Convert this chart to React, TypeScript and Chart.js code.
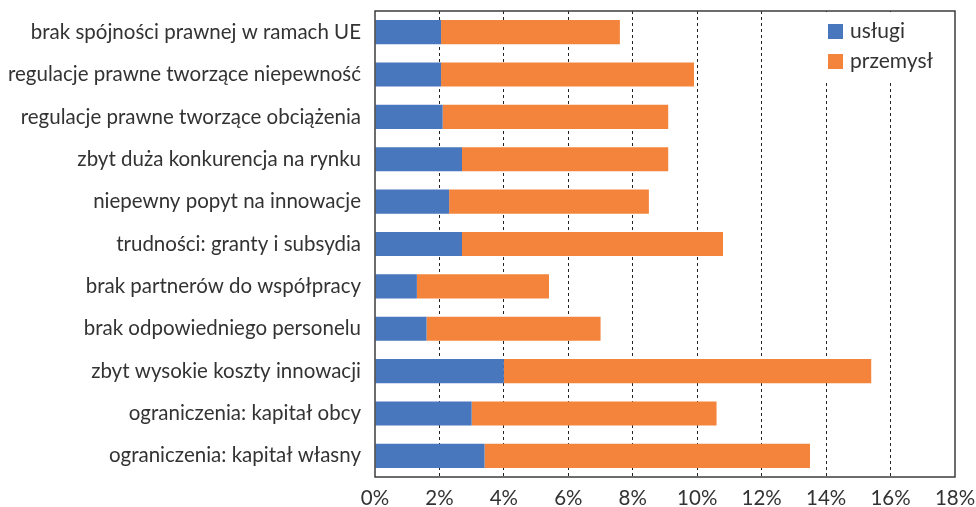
import React, { useEffect, useRef } from "react";
import { Chart, registerables } from "chart.js";

Chart.register(...registerables);

const categories = [
  "brak spójności prawnej w ramach UE",
  "regulacje prawne tworzące niepewność",
  "regulacje prawne tworzące obciążenia",
  "zbyt duża konkurencja na rynku",
  "niepewny popyt na innowacje",
  "trudności: granty i subsydia",
  "brak partnerów do współpracy",
  "brak odpowiedniego personelu",
  "zbyt wysokie koszty innowacji",
  "ograniczenia: kapitał obcy",
  "ograniczenia: kapitał własny",
];

const uslugi = [2.05, 2.05, 2.1, 2.7, 2.3, 2.7, 1.3, 1.6, 4.0, 3.0, 3.4];
const przemysl = [5.55, 7.85, 7.0, 6.4, 6.2, 8.1, 4.1, 5.4, 11.4, 7.6, 10.1];

const seriesNames = ["usługi", "przemysł"];
const seriesColors = ["#4877bd", "#f4843c"];

const xMin = 0;
const xMax = 18;
const xStep = 2;

const FONT = "Lato, 'Open Sans', sans-serif";
const TEXT = "#333333";

const boxPlugin = {
  id: "boxAndLegend",
  beforeDatasetsDraw(chart: any) {
    const { ctx, chartArea } = chart;
    ctx.save();
    ctx.fillStyle = "#ffffff";
    ctx.fillRect(815, chartArea.top + 1, chartArea.right - 816, 68);
    ctx.restore();
  },
  afterDraw(chart: any) {
    const { ctx, chartArea } = chart;
    ctx.save();
    ctx.strokeStyle = "#3c3c3c";
    ctx.lineWidth = 1.5;
    ctx.strokeRect(chartArea.left, chartArea.top, chartArea.right - chartArea.left, chartArea.bottom - chartArea.top);
    // legend
    ctx.font = `21px ${FONT}`;
    ctx.textBaseline = "middle";
    ctx.textAlign = "left";
    seriesNames.forEach((name, i) => {
      const y = 24 + i * 30;
      ctx.fillStyle = seriesColors[i];
      ctx.fillRect(828, y, 15, 15);
      ctx.fillStyle = TEXT;
      ctx.fillText(name, 850, y + 7);
    });
    ctx.restore();
  },
};

export default function App() {
  const ref = useRef<HTMLCanvasElement | null>(null);
  useEffect(() => {
    document.body.style.margin = "0";
    const chart = new Chart(ref.current as HTMLCanvasElement, {
      type: "bar",
      data: {
        labels: categories,
        datasets: [
          { label: seriesNames[0], data: uslugi, backgroundColor: seriesColors[0], borderWidth: 0 },
          { label: seriesNames[1], data: przemysl, backgroundColor: seriesColors[1], borderWidth: 0 },
        ],
      },
      options: {
        indexAxis: "y",
        responsive: false,
        animation: false,
        maintainAspectRatio: false,
        layout: { padding: { top: 11, right: 21, left: 0, bottom: 0 } },
        plugins: { legend: { display: false }, tooltip: { enabled: false } },
        datasets: { bar: { categoryPercentage: 1, barPercentage: 0.57 } },
        scales: {
          x: {
            stacked: true,
            min: xMin,
            max: xMax,
            ticks: {
              stepSize: xStep,
              padding: 9,
              color: TEXT,
              font: { family: FONT, size: 20.5 },
              callback: (v: any) => `${v}%`,
            },
            grid: {
              drawTicks: false,
              color: (c: any) => (c.tick && (c.tick.value === xMin || c.tick.value === xMax) ? "rgba(0,0,0,0)" : "#222222"),
              lineWidth: 1,
            },
            border: { display: false, dash: [3, 3] },
            afterFit: (s: any) => {
              s.height = 30;
              s.paddingLeft = 0;
              s.paddingRight = 0;
            },
          },
          y: {
            stacked: true,
            ticks: { padding: 14, color: TEXT, font: { family: FONT, size: 20.5 } },
            grid: { display: false, drawTicks: false },
            border: { display: false },
            afterFit: (s: any) => {
              s.width = 375;
              s.paddingTop = 0;
              s.paddingBottom = 0;
            },
          },
        },
      },
      plugins: [boxPlugin],
    });
    return () => chart.destroy();
  }, []);
  return (
    <div style={{ width: 976, height: 507 }}>
      <canvas ref={ref} width={976} height={507} style={{ display: "block" }} />
    </div>
  );
}
